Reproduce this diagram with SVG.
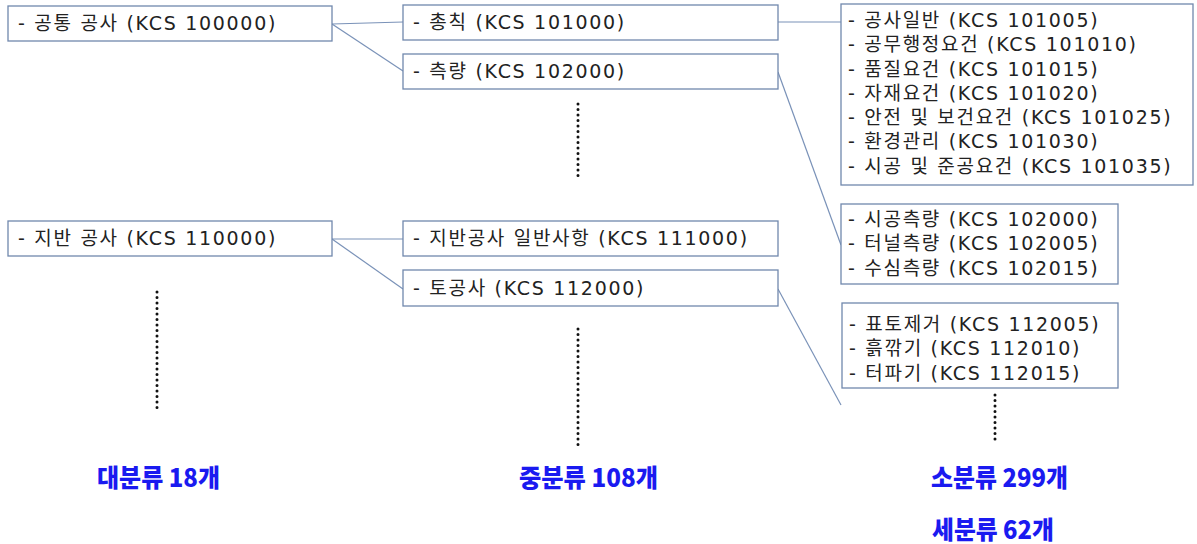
<svg xmlns="http://www.w3.org/2000/svg" width="1197" height="544" viewBox="0 0 1197 544">
<style>
.box{fill:#fff;stroke:#7088ad;stroke-width:1.3}
.t{font-family:"DejaVu Sans","Noto Sans CJK KR",sans-serif;font-size:19px;fill:#222;letter-spacing:1.7px}
.lbl{font-family:"Noto Sans CJK KR","Noto Sans",sans-serif;font-size:25px;font-weight:900;fill:#1a1af0}
.c{stroke:#7a92b8;stroke-width:1.2;fill:none}
.dot{stroke:#111;stroke-width:3;stroke-linecap:round;stroke-dasharray:0 5.5;fill:none}
</style>
<rect width="1197" height="544" fill="#fff"/>
<g id="connectors">
<line class="c" x1="332" y1="24" x2="403" y2="22"/>
<line class="c" x1="332" y1="24" x2="403" y2="71"/>
<line class="c" x1="778" y1="22" x2="841" y2="22"/>
<line class="c" x1="778" y1="72" x2="841" y2="245"/>
<line class="c" x1="332" y1="239" x2="403" y2="239"/>
<line class="c" x1="332" y1="239" x2="403" y2="289"/>
<line class="c" x1="778" y1="289" x2="841" y2="405"/>
</g>
<g id="dots">
<line class="dot" x1="578" y1="104" x2="578" y2="178"/>
<line class="dot" x1="157" y1="292" x2="157" y2="410"/>
<line class="dot" x1="578" y1="329" x2="578" y2="447"/>
<line class="dot" x1="995" y1="395" x2="995" y2="440"/>
</g>
<g id="n-common">
<rect class="box" x="8" y="6" width="324" height="35"/>
<text class="t" x="18" y="30">- 공통 공사 (KCS 100000)</text>
</g>
<g id="n-general">
<rect class="box" x="403" y="5" width="375" height="35"/>
<text class="t" x="413" y="29">- 총칙 (KCS 101000)</text>
</g>
<g id="n-survey">
<rect class="box" x="403" y="54" width="375" height="35"/>
<text class="t" x="413" y="78">- 측량 (KCS 102000)</text>
</g>
<g id="n-general-items">
<rect class="box" x="841" y="4" width="352" height="181"/>
<text class="t" x="848" y="27">- 공사일반 (KCS 101005)</text>
<text class="t" x="848" y="51">- 공무행정요건 (KCS 101010)</text>
<text class="t" x="848" y="76">- 품질요건 (KCS 101015)</text>
<text class="t" x="848" y="100">- 자재요건 (KCS 101020)</text>
<text class="t" x="848" y="124">- 안전 및 보건요건 (KCS 101025)</text>
<text class="t" x="848" y="148">- 환경관리 (KCS 101030)</text>
<text class="t" x="848" y="173">- 시공 및 준공요건 (KCS 101035)</text>
</g>
<g id="n-survey-items">
<rect class="box" x="841" y="204" width="277" height="80"/>
<text class="t" x="848" y="226">- 시공측량 (KCS 102000)</text>
<text class="t" x="848" y="250">- 터널측량 (KCS 102005)</text>
<text class="t" x="848" y="275">- 수심측량 (KCS 102015)</text>
</g>
<g id="n-ground">
<rect class="box" x="8" y="221" width="324" height="35"/>
<text class="t" x="18" y="245">- 지반 공사 (KCS 110000)</text>
</g>
<g id="n-ground-general">
<rect class="box" x="403" y="221" width="375" height="35"/>
<text class="t" x="413" y="245">- 지반공사 일반사항 (KCS 111000)</text>
</g>
<g id="n-earthwork">
<rect class="box" x="403" y="270" width="375" height="36"/>
<text class="t" x="413" y="295">- 토공사 (KCS 112000)</text>
</g>
<g id="n-earthwork-items">
<rect class="box" x="842" y="303" width="276" height="85"/>
<text class="t" x="849" y="331">- 표토제거 (KCS 112005)</text>
<text class="t" x="849" y="355">- 흙깎기 (KCS 112010)</text>
<text class="t" x="849" y="380">- 터파기 (KCS 112015)</text>
</g>
<g id="labels">
<text class="lbl" x="97" y="487" textLength="123" lengthAdjust="spacingAndGlyphs">대분류 18개</text>
<text class="lbl" x="519" y="487" textLength="139" lengthAdjust="spacingAndGlyphs">중분류 108개</text>
<text class="lbl" x="931" y="487" textLength="137" lengthAdjust="spacingAndGlyphs">소분류 299개</text>
<text class="lbl" x="932" y="539" textLength="122" lengthAdjust="spacingAndGlyphs">세분류 62개</text>
</g>
</svg>
